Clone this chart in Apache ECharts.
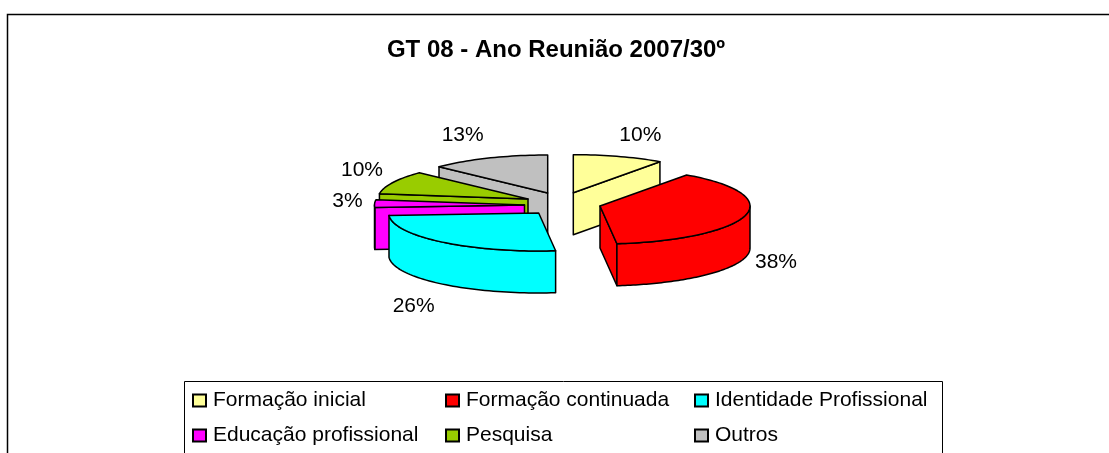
<!DOCTYPE html>
<html><head><meta charset="utf-8">
<style>html,body{margin:0;padding:0;background:#fff}#c{width:1109px;height:453px}</style>
<script src="https://cdn.jsdelivr.net/npm/echarts@6/dist/echarts.min.js"></script>
</head><body><div id="c"></div>
<script>
var titleText = 'GT 08 - Ano Reunião 2007/30º';
var categories = ['Formação inicial','Formação continuada','Identidade Profissional','Educação profissional','Pesquisa','Outros'];
var shares = [9.8,38.4,25.8,3.2,9.9,12.9];
var colors = ['#FFFF99','#FF0000','#00FFFF','#FF00FF','#99CC00','#C0C0C0'];

// layout of the exploded pie
var pieCentre = [558,205], rx = 150, ry = 38, depth = 42;
var explode = [[15.3,-12.3],[42,1],[-19.3,8],[-33.5,0],[-30,-6],[-10.3,-12]];
var labelOffset = [[67,-57.5],[176,56],[-125,93],[-177,-4],[-166,-29],[-85,-57.5]];
var drawOrder = [5,4,3,2,0,1];
var legendColumns = [{left:187,idx:[0,3]},{left:440,idx:[1,4]},{left:689,idx:[2,5]}];
var font = '"Liberation Sans", Arial, sans-serif';

var total = shares.reduce(function(a,b){return a+b;},0);
function startAngle(i){var s=0;for(var k=0;k<i;k++)s+=shares[k];return s/total*2*Math.PI;}
function renderSlice(i){
  return function(params, api){
    var a0=startAngle(i), a1=a0+api.value(0)/total*2*Math.PI;
    var ax=pieCentre[0]+explode[i][0], ay=pieCentre[1]+explode[i][1];
    function pt(a,h){return [ax+rx*Math.sin(a), ay-ry*Math.cos(a)+(h||0)];}
    var style={fill:colors[i],stroke:'#000',lineWidth:1.5,lineJoin:'round'};
    var kids=[], n=Math.max(4,Math.round((a1-a0)/0.03)), k, a;
    if(Math.sin(a0)<0) kids.push({type:'polygon',shape:{points:[[ax,ay],pt(a0),pt(a0,depth),[ax,ay+depth]]},style:style});
    if(Math.sin(a1)>0) kids.push({type:'polygon',shape:{points:[[ax,ay],pt(a1),pt(a1,depth),[ax,ay+depth]]},style:style});
    var w0=Math.max(a0,Math.PI/2), w1=Math.min(a1,3*Math.PI/2);
    if(w1>w0){
      var upper=[],lower=[];
      for(k=0;k<=n;k++){a=w0+(w1-w0)*k/n;upper.push(pt(a));lower.unshift(pt(a,depth));}
      kids.push({type:'polygon',shape:{points:upper.concat(lower)},style:style});
    }
    var top=[[ax,ay]];
    for(k=0;k<=n;k++){a=a0+(a1-a0)*k/n;top.push(pt(a));}
    kids.push({type:'polygon',shape:{points:top},style:style});
    kids.push({type:'text',style:{text:Math.round(api.value(0)/total*100)+'%',
      x:ax+labelOffset[i][0],y:ay+labelOffset[i][1],
      textAlign:'center',textVerticalAlign:'middle',font:'21px '+font,fill:'#000'}});
    return {type:'group',children:kids};
  };
}
var series=drawOrder.map(function(i,o){
  return {type:'custom',name:categories[i],coordinateSystem:'none',z:2+o,silent:true,animation:false,
    itemStyle:{color:colors[i],borderColor:'#000',borderWidth:1.5},
    renderItem:renderSlice(i),data:[[shares[i]]]};
});
var legends=legendColumns.map(function(c){
  return {orient:'vertical',left:c.left,top:387,itemWidth:13,itemHeight:12,itemGap:14,padding:[3,5],
    selectedMode:false,icon:'rect',data:c.idx.map(function(i){return categories[i];}),
    textStyle:{fontFamily:font,fontSize:21,color:'#000',padding:[0,0,0,2]}};
});
var chart=echarts.init(document.getElementById('c'),null,{renderer:'canvas'});
chart.setOption({
  animation:false,backgroundColor:'#fff',
  title:{text:titleText,left:551,top:33,textAlign:'center',
    textStyle:{fontFamily:font,fontSize:24,fontWeight:'bold',color:'#000'}},
  legend:legends,
  graphic:[
    {type:'rect',z:0,silent:true,shape:{x:7.5,y:14.5,width:1120,height:460},style:{fill:'#fff',stroke:'#000',lineWidth:1.5}},
    {type:'rect',z:1,silent:true,shape:{x:184.5,y:381.5,width:758,height:90},style:{fill:'#fff',stroke:'#000',lineWidth:1}}
  ],
  series:series
});
</script></body></html>
